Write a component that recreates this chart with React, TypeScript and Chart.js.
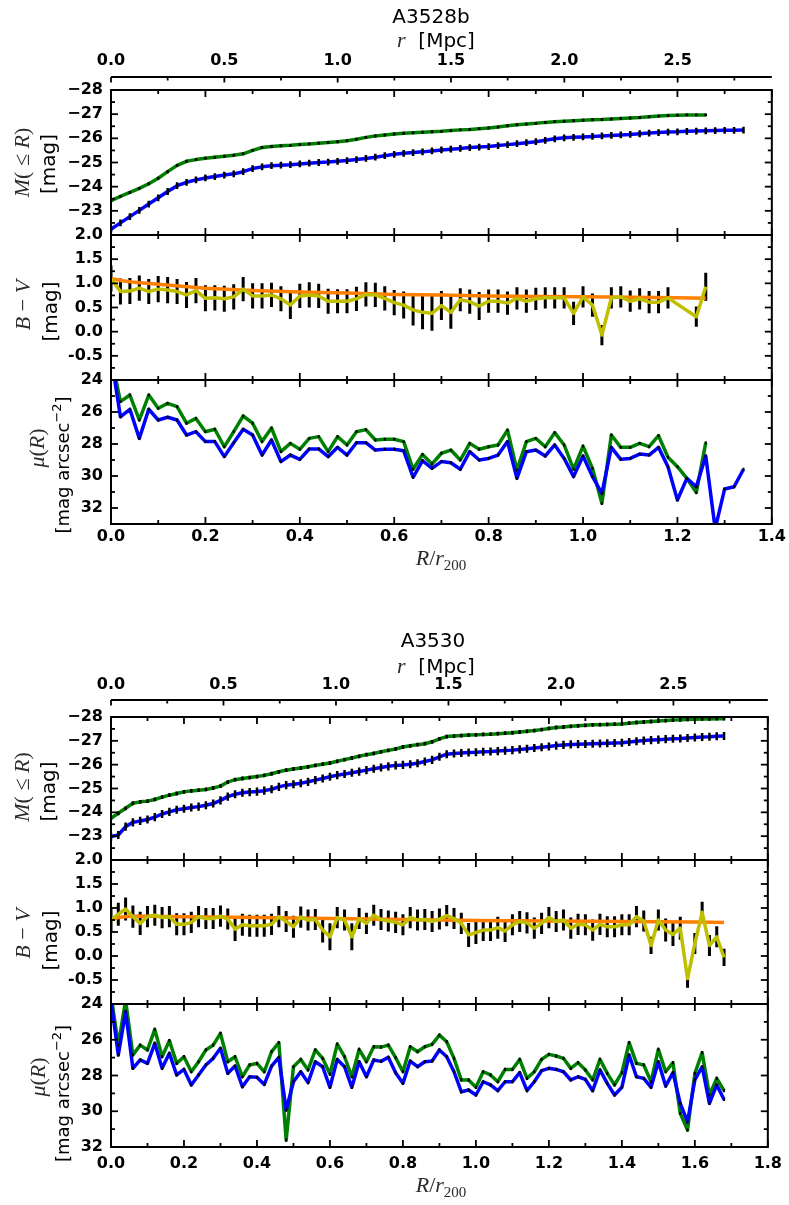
import React, { useEffect, useRef } from 'react';
import { Chart, registerables } from 'chart.js';

Chart.register(...registerables);

// ---------------- categories: R / r200 grid ----------------
const rTop = [0.00, 0.02, 0.04, 0.06, 0.08, 0.10, 0.12, 0.14, 0.16, 0.18, 0.20, 0.22, 0.24, 0.26, 0.28, 0.30, 0.32, 0.34, 0.36, 0.38, 0.40, 0.42, 0.44, 0.46, 0.48, 0.50, 0.52, 0.54, 0.56, 0.58, 0.60, 0.62, 0.64, 0.66, 0.68, 0.70, 0.72, 0.74, 0.76, 0.78, 0.80, 0.82, 0.84, 0.86, 0.88, 0.90, 0.92, 0.94, 0.96, 0.98, 1.00, 1.02, 1.04, 1.06, 1.08, 1.10, 1.12, 1.14, 1.16, 1.18, 1.20, 1.22, 1.24, 1.26, 1.28, 1.30, 1.32, 1.34];
const rBottom = [0.00, 0.02, 0.04, 0.06, 0.08, 0.10, 0.12, 0.14, 0.16, 0.18, 0.20, 0.22, 0.24, 0.26, 0.28, 0.30, 0.32, 0.34, 0.36, 0.38, 0.40, 0.42, 0.44, 0.46, 0.48, 0.50, 0.52, 0.54, 0.56, 0.58, 0.60, 0.62, 0.64, 0.66, 0.68, 0.70, 0.72, 0.74, 0.76, 0.78, 0.80, 0.82, 0.84, 0.86, 0.88, 0.90, 0.92, 0.94, 0.96, 0.98, 1.00, 1.02, 1.04, 1.06, 1.08, 1.10, 1.12, 1.14, 1.16, 1.18, 1.20, 1.22, 1.24, 1.26, 1.28, 1.30, 1.32, 1.34, 1.36, 1.38, 1.40, 1.42, 1.44, 1.46, 1.48, 1.50, 1.52, 1.54, 1.56, 1.58, 1.60, 1.62, 1.64, 1.66, 1.68];

// ---------------- A3528b ----------------
const a3528bMBlue = [
  -22.24, -22.50, -22.76, -23.02, -23.28, -23.54, -23.80, -24.04, -24.18, -24.28,
  -24.36, -24.42, -24.48, -24.53, -24.62, -24.75, -24.82, -24.87, -24.89, -24.91,
  -24.94, -24.97, -25.00, -25.02, -25.05, -25.08, -25.12, -25.17, -25.22, -25.28,
  -25.34, -25.38, -25.41, -25.44, -25.48, -25.52, -25.55, -25.58, -25.62, -25.64,
  -25.66, -25.70, -25.74, -25.78, -25.82, -25.86, -25.92, -25.98, -26.02, -26.04,
  -26.06, -26.08, -26.10, -26.12, -26.14, -26.16, -26.19, -26.22, -26.24, -26.26,
  -26.27, -26.29, -26.30, -26.31, -26.32, -26.33, -26.33, -26.34];
const a3528bMGreen = [
  -23.42, -23.60, -23.76, -23.93, -24.12, -24.35, -24.62, -24.88, -25.05, -25.12,
  -25.18, -25.22, -25.26, -25.30, -25.36, -25.50, -25.62, -25.66, -25.69, -25.71,
  -25.74, -25.77, -25.80, -25.83, -25.86, -25.90, -25.96, -26.04, -26.10, -26.14,
  -26.18, -26.21, -26.23, -26.25, -26.27, -26.29, -26.32, -26.35, -26.37, -26.40,
  -26.43, -26.47, -26.52, -26.56, -26.59, -26.62, -26.66, -26.69, -26.71, -26.73,
  -26.75, -26.77, -26.78, -26.80, -26.82, -26.84, -26.86, -26.89, -26.92, -26.94,
  -26.96, -26.97, -26.97, -26.97];
const a3528bBV = [
  1.10, 0.83, 0.84, 0.90, 0.83, 0.88, 0.86, 0.83, 0.76, 0.85,
  0.69, 0.70, 0.68, 0.72, 0.88, 0.74, 0.74, 0.76, 0.68, 0.55,
  0.74, 0.76, 0.74, 0.63, 0.63, 0.63, 0.68, 0.77, 0.76, 0.69,
  0.60, 0.55, 0.45, 0.40, 0.38, 0.54, 0.40, 0.66, 0.62, 0.53,
  0.63, 0.63, 0.59, 0.69, 0.63, 0.68, 0.70, 0.70, 0.70, 0.38,
  0.72, 0.55, -0.07, 0.70, 0.72, 0.63, 0.68, 0.61, 0.61, 0.70,
  null, null, 0.31, 0.93];
const a3528bBVErr = [
  0.27, 0.27, 0.27, 0.26, 0.26, 0.27, 0.27, 0.26, 0.27, 0.26,
  0.27, 0.26, 0.27, 0.26, 0.25, 0.26, 0.26, 0.25, 0.26, 0.29,
  0.25, 0.26, 0.25, 0.26, 0.25, 0.25, 0.25, 0.25, 0.25, 0.25,
  0.26, 0.28, 0.32, 0.35, 0.36, 0.30, 0.34, 0.24, 0.25, 0.29,
  0.24, 0.24, 0.24, 0.23, 0.24, 0.23, 0.22, 0.22, 0.22, 0.24,
  0.22, 0.24, 0.21, 0.22, 0.22, 0.22, 0.22, 0.23, 0.23, 0.22,
  null, null, 0.21, 0.29];
const a3528bFitR = [0.00, 0.02, 0.05, 0.10, 0.15, 0.20, 0.30, 0.40, 0.50, 0.60, 0.70, 0.80, 0.90, 1.00, 1.10, 1.20, 1.26];
const a3528bFitBV = [1.10, 1.06, 1.02, 0.98, 0.94, 0.90, 0.85, 0.82, 0.80, 0.77, 0.76, 0.74, 0.73, 0.72, 0.71, 0.70, 0.69];
const a3528bMuBlue = [
  22.5, 26.3, 25.83, 27.65, 25.83, 26.5, 26.33, 26.5, 27.44, 27.23,
  27.85, 27.85, 28.79, 27.92, 27.08, 27.44, 28.69, 27.75, 29.1, 28.69,
  28.96, 28.31, 28.31, 28.79, 28.21, 28.69, 27.92, 27.92, 28.38, 28.33,
  28.33, 28.42, 30.08, 29.04, 29.52, 29.1, 29.17, 29.58, 28.48, 29.0,
  28.9, 28.69, 27.85, 30.15, 28.48, 28.38, 28.75, 28.06, 28.9, 30.04,
  28.75, 30.04, 31.08, 28.21, 28.96, 28.9, 28.63, 28.69, 28.21, 29.42,
  31.5, 30.15, 30.67, 28.75, 33.3, 30.81, 30.67, 29.58];
const a3528bMuGreen = [
  22.5, 25.35, 24.94, 26.5, 24.94, 25.77, 25.46, 25.67, 26.7, 26.4,
  27.23, 27.08, 28.17, 27.23, 26.25, 26.7, 27.85, 27.0, 28.48, 27.96,
  28.33, 27.65, 27.54, 28.48, 27.54, 28.06, 27.23, 27.1, 27.75, 27.7,
  27.7, 27.85, 29.58, 28.65, 29.25, 28.58, 28.38, 29.0, 27.96, 28.33,
  28.17, 28.06, 27.13, 29.63, 27.85, 27.65, 28.17, 27.29, 28.06, 29.58,
  28.13, 29.52, 31.71, 27.44, 28.21, 28.21, 27.96, 28.17, 27.48, 28.83,
  29.42, 30.15, 31.04, 27.92];

// ---------------- A3530 ----------------
const a3530MBlue = [
  -22.98, -23.05, -23.40, -23.58, -23.64, -23.70, -23.80, -23.93, -24.02, -24.11,
  -24.15, -24.20, -24.24, -24.30, -24.37, -24.50, -24.66, -24.76, -24.82, -24.85,
  -24.87, -24.91, -24.97, -25.07, -25.14, -25.18, -25.22, -25.28, -25.35, -25.42,
  -25.49, -25.56, -25.61, -25.66, -25.71, -25.77, -25.83, -25.88, -25.93, -25.97,
  -25.99, -26.02, -26.06, -26.13, -26.20, -26.33, -26.44, -26.47, -26.49, -26.51,
  -26.52, -26.54, -26.55, -26.57, -26.59, -26.61, -26.64, -26.67, -26.70, -26.73,
  -26.76, -26.80, -26.83, -26.85, -26.86, -26.87, -26.88, -26.89, -26.90, -26.91,
  -26.92, -26.95, -26.98, -27.01, -27.03, -27.05, -27.07, -27.09, -27.10, -27.12,
  -27.14, -27.16, -27.17, -27.19, -27.20];
const a3530MGreen = [
  -23.75, -23.96, -24.17, -24.38, -24.44, -24.47, -24.54, -24.64, -24.72, -24.79,
  -24.86, -24.90, -24.93, -24.96, -25.02, -25.10, -25.27, -25.37, -25.42, -25.46,
  -25.50, -25.55, -25.62, -25.70, -25.77, -25.82, -25.86, -25.91, -25.97, -26.02,
  -26.07, -26.14, -26.21, -26.28, -26.35, -26.42, -26.47, -26.54, -26.60, -26.66,
  -26.74, -26.79, -26.84, -26.88, -26.96, -27.08, -27.18, -27.20, -27.22, -27.24,
  -27.25, -27.27, -27.28, -27.30, -27.32, -27.34, -27.37, -27.40, -27.43, -27.47,
  -27.52, -27.56, -27.58, -27.61, -27.63, -27.65, -27.67, -27.68, -27.69, -27.70,
  -27.71, -27.74, -27.77, -27.79, -27.81, -27.83, -27.85, -27.87, -27.88, -27.90,
  -27.91, -27.92, -27.92, -27.93, -27.93];
const a3530BV = [
  0.75, 0.87, 0.98, 0.82, 0.68, 0.82, 0.85, 0.80, 0.82, 0.66,
  0.66, 0.70, 0.82, 0.78, 0.78, 0.83, 0.77, 0.56, 0.65, 0.63,
  0.63, 0.63, 0.66, 0.82, 0.72, 0.61, 0.81, 0.75, 0.76, 0.54,
  0.40, 0.80, 0.75, 0.40, 0.78, 0.68, 0.85, 0.76, 0.73, 0.70,
  0.65, 0.80, 0.75, 0.76, 0.72, 0.77, 0.84, 0.78, 0.68, 0.44,
  0.49, 0.54, 0.54, 0.59, 0.52, 0.65, 0.72, 0.69, 0.58, 0.68,
  0.80, 0.72, 0.75, 0.58, 0.66, 0.65, 0.54, 0.66, 0.61, 0.61,
  0.65, 0.65, 0.82, 0.73, 0.22, 0.75, 0.54, 0.45, 0.58, -0.47,
  0.26, 0.91, 0.22, 0.40, -0.03];
const a3530BVErr = [
  0.24, 0.24, 0.24, 0.23, 0.24, 0.22, 0.22, 0.22, 0.22, 0.23,
  0.23, 0.22, 0.22, 0.22, 0.22, 0.22, 0.22, 0.25, 0.23, 0.23,
  0.23, 0.23, 0.22, 0.22, 0.22, 0.23, 0.22, 0.22, 0.22, 0.26,
  0.28, 0.22, 0.22, 0.28, 0.22, 0.22, 0.22, 0.22, 0.22, 0.22,
  0.22, 0.22, 0.22, 0.22, 0.22, 0.22, 0.22, 0.22, 0.22, 0.25,
  0.24, 0.23, 0.23, 0.23, 0.23, 0.22, 0.22, 0.22, 0.22, 0.22,
  0.22, 0.22, 0.22, 0.22, 0.22, 0.22, 0.22, 0.22, 0.22, 0.22,
  0.22, 0.22, 0.22, 0.22, 0.18, 0.22, 0.24, 0.24, 0.24, 0.19,
  0.22, 0.22, 0.22, 0.22, 0.18];
const a3530FitR = [0.00, 0.02, 0.05, 0.10, 0.20, 0.40, 0.60, 0.80, 1.00, 1.20, 1.40, 1.60, 1.68];
const a3530FitBV = [0.75, 0.80, 0.83, 0.83, 0.82, 0.80, 0.78, 0.76, 0.74, 0.73, 0.72, 0.71, 0.70];
const a3530MuBlue = [
  23.8, 26.85, 24.43, 27.6, 27.13, 27.32, 26.2, 27.6, 26.76, 27.97,
  27.66, 28.53, 27.97, 27.41, 27.04, 26.48, 27.88, 27.47, 28.63, 28.07,
  28.1, 28.5, 27.47, 26.99, 29.93, 28.35, 27.79, 28.4, 27.23, 27.51,
  28.66, 27.1, 27.51, 28.66, 27.23, 28.07, 27.13, 27.21, 26.98, 27.85,
  28.44, 27.19, 27.51, 27.23, 27.19, 26.57, 26.95, 27.79, 28.91, 28.81,
  29.09, 28.35, 28.53, 28.85, 28.35, 28.35, 27.84, 28.85, 28.35, 27.73,
  27.6, 27.66, 27.79, 28.25, 28.07, 28.22, 28.85, 27.69, 28.44, 29.09,
  28.66, 26.85, 28.07, 28.16, 28.66, 27.23, 28.59, 27.84, 29.56, 30.59,
  28.25, 27.51, 29.56, 28.53, 29.34];
const a3530MuGreen = [
  23.5, 26.3, 23.8, 26.85, 26.3, 26.57, 25.42, 26.95, 26.05, 27.32,
  26.95, 27.79, 27.23, 26.57, 26.3, 25.64, 27.23, 26.95, 28.07, 27.41,
  27.32, 27.79, 26.67, 26.16, 31.61, 27.51, 27.1, 27.69, 26.57, 27.04,
  27.92, 26.24, 26.95, 28.07, 26.54, 27.23, 26.39, 26.41, 26.3, 27.0,
  27.79, 26.39, 26.67, 26.39, 26.26, 25.74, 26.11, 27.04, 28.25, 28.25,
  28.66, 27.79, 27.97, 28.35, 27.66, 27.66, 27.1, 28.16, 27.79, 27.1,
  26.82, 26.91, 27.04, 27.6, 27.28, 27.69, 28.25, 27.1, 27.88, 28.53,
  27.84, 26.16, 27.32, 27.41, 28.35, 26.54, 27.79, 27.28, 30.12, 31.05,
  27.88, 26.72, 29.09, 28.16, 28.85];

// ---------------- styles ----------------
const BLUE = '#0000ff';
const GREEN = '#008000';
const YELLOW = '#bfbf00';
const ORANGE = '#ff7f00';
const SANS = '"DejaVu Sans", sans-serif';
const SERIF = '"Liberation Serif", "DejaVu Serif", serif';
const TICK_FONT = { family: SANS, size: 16, weight: 'bold' as const };
const MI = `italic 22px ${SERIF}`;
const MR = `22px ${SERIF}`;
const S20 = `20px ${SANS}`;
const MATH_COLOR = '#2b2b2b';

type Part = [string, string, number?, string?];

type Group = {
  title: string; top: number; height: number;
  areaTop: number; areaBottom: number; weights: number[];
  xMax: number; r200: number; muMax: number;
  mpcY: number; titleX: number; titleBase: number; mpcLabelX: number; mpcLabelBase: number;
  xLabelX: number; xLabelBase: number; xPad: number; rPad: number;
  yLab: { x1: number; x2: number; dy1: number; dy2: number }[];
  r: number[]; mBlue: number[]; mGreen: number[]; bv: (number | null)[]; bvErr: (number | null)[];
  fitR: number[]; fitBV: number[]; muBlue: number[]; muGreen: number[];
  mBlueErr: number; mGreenErr: number; muErr: number;
};

const groups: Group[] = [
  {
    title: 'A3528b', top: 0, height: 600, areaTop: 90, areaBottom: 524, weights: [145, 145, 144],
    xMax: 1.4, r200: 2.0825, muMax: 33,
    mpcY: 77, titleX: 431, titleBase: 22.5, mpcLabelX: 436, mpcLabelBase: 46.5,
    xLabelX: 441, xLabelBase: 565, xPad: 3, rPad: 19.4,
    yLab: [{ x1: 23, x2: 49, dy1: 0, dy2: 1.5 }, { x1: 23, x2: 51, dy1: -2.5, dy2: 4 }, { x1: 38, x2: 63, dy1: -4, dy2: 13 }],
    r: rTop, mBlue: a3528bMBlue, mGreen: a3528bMGreen, bv: a3528bBV, bvErr: a3528bBVErr,
    fitR: a3528bFitR, fitBV: a3528bFitBV, muBlue: a3528bMuBlue, muGreen: a3528bMuGreen,
    mBlueErr: 0.14, mGreenErr: 0.06, muErr: 0.09,
  },
  {
    title: 'A3530', top: 600, height: 605, areaTop: 117, areaBottom: 547, weights: [143, 144, 143],
    xMax: 1.8, r200: 1.622, muMax: 32,
    mpcY: 100, titleX: 433, titleBase: 46.7, mpcLabelX: 436, mpcLabelBase: 73,
    xLabelX: 441, xLabelBase: 592, xPad: 7, rPad: 22.4,
    yLab: [{ x1: 23, x2: 49, dy1: -1.5, dy2: 3 }, { x1: 23, x2: 51, dy1: 1.5, dy2: 8.5 }, { x1: 39, x2: 63, dy1: 1.5, dy2: 18 }],
    r: rBottom, mBlue: a3530MBlue, mGreen: a3530MGreen, bv: a3530BV, bvErr: a3530BVErr,
    fitR: a3530FitR, fitBV: a3530FitBV, muBlue: a3530MuBlue, muGreen: a3530MuGreen,
    mBlueErr: 0.17, mGreenErr: 0.08, muErr: 0.09,
  },
];

const pts = (r: number[], v: (number | null)[]) => v.map((y, i) => ({ x: r[i], y }));

function partsWidth(ctx: CanvasRenderingContext2D, parts: Part[]) {
  let w = 0;
  for (const p of parts) { ctx.font = p[1]; w += ctx.measureText(p[0]).width; }
  return w;
}
function drawParts(ctx: CanvasRenderingContext2D, parts: Part[], cx: number, base: number, color: string) {
  const w = partsWidth(ctx, parts);
  let x = cx - w / 2;
  ctx.textAlign = 'left';
  ctx.textBaseline = 'alphabetic';
  for (const p of parts) {
    ctx.font = p[1];
    ctx.fillStyle = p[3] || color;
    ctx.fillText(p[0], x, base + (p[2] || 0));
    x += ctx.measureText(p[0]).width;
  }
}
function drawRot(ctx: CanvasRenderingContext2D, parts: Part[], cx: number, cy: number, baseOff: number, color: string) {
  ctx.save();
  ctx.translate(cx, cy);
  ctx.rotate(-Math.PI / 2);
  drawParts(ctx, parts, 0, baseOff, color);
  ctx.restore();
}

function forTicks(min: number, max: number, minor: number, major: number, cb: (v: number, isMajor: boolean) => void) {
  const n = Math.floor((max - min) / minor + 1e-6);
  const start = Math.ceil(min / minor - 1e-6) * minor;
  for (let i = 0; i <= n; i++) {
    const v = start + i * minor;
    if (v > max + 1e-6) break;
    const q = v / major;
    cb(v, Math.abs(q - Math.round(q)) < 1e-6);
  }
}

function makePlugin(g: Group) {
  const drawErr = (chart: any, onTop: boolean) => {
    const ctx: CanvasRenderingContext2D = chart.ctx;
    chart.data.datasets.forEach((ds: any) => {
      if (ds.err == null || !!ds.errTop !== onTop) return;
      const xs = chart.scales.x;
      const ys = chart.scales[ds.yAxisID];
      ctx.save();
      ctx.beginPath();
      ctx.rect(xs.left, ys.top, xs.right - xs.left, ys.bottom - ys.top);
      ctx.clip();
      ctx.strokeStyle = '#000';
      ctx.lineWidth = ds.errW;
      ctx.lineCap = 'butt';
      ds.data.forEach((p: any, j: number) => {
        if (p.y == null) return;
        const e = Array.isArray(ds.err) ? ds.err[j] : ds.err;
        if (e == null) return;
        const px = xs.getPixelForValue(p.x);
        ctx.beginPath();
        ctx.moveTo(px, ys.getPixelForValue(p.y - e));
        ctx.lineTo(px, ys.getPixelForValue(p.y + e));
        ctx.stroke();
      });
      ctx.restore();
    });
  };

  const yTickSteps: Record<string, [number, number]> = { yM: [0.5, 1], yBV: [0.25, 0.5], yMu: [1, 2] };

  return {
    id: 'mplFrame',
    beforeDatasetsDraw(chart: any) { drawErr(chart, false); },
    afterDatasetsDraw(chart: any) { drawErr(chart, true); },
    afterDraw(chart: any) {
      const ctx: CanvasRenderingContext2D = chart.ctx;
      const xs = chart.scales.x;
      const xr = chart.scales.xr;
      const L = xs.left, R = xs.right;
      ctx.save();
      ctx.strokeStyle = '#000';
      ctx.lineCap = 'butt';
      const seg = (x1: number, y1: number, x2: number, y2: number) => {
        ctx.beginPath(); ctx.moveTo(x1, y1); ctx.lineTo(x2, y2); ctx.stroke();
      };
      // panels
      ['yM', 'yBV', 'yMu'].forEach((id) => {
        const ys = chart.scales[id];
        const T = ys.top, B = ys.bottom;
        ctx.lineWidth = 1.8;
        forTicks(xs.min, xs.max, 0.1, 0.2, (v, maj) => {
          const px = xs.getPixelForValue(v);
          const len = maj ? 7 : 4;
          seg(px, T, px, T + len);
          seg(px, B, px, B - len);
        });
        const [mn, mj] = yTickSteps[id];
        forTicks(ys.min, ys.max, mn, mj, (v, maj) => {
          const py = ys.getPixelForValue(v);
          const len = maj ? 7 : 4;
          seg(L, py, L + len, py);
          seg(R, py, R - len, py);
        });
        ctx.lineWidth = 2;
        ctx.strokeRect(L, T, R - L, B - T);
      });
      // Mpc axis
      ctx.lineWidth = 2;
      seg(L, g.mpcY, R, g.mpcY);
      ctx.lineWidth = 1.8;
      forTicks(xr.min, xr.max, 0.25, 0.5, (v, maj) => {
        const px = xr.getPixelForValue(v);
        seg(px, g.mpcY, px, g.mpcY + (maj ? 5.5 : 3.5));
      });
      // texts
      drawParts(ctx, [[g.title, S20]], g.titleX, g.titleBase, '#000');
      drawParts(ctx, [['r', MI, 0, MATH_COLOR], ['  [Mpc]', S20]], g.mpcLabelX, g.mpcLabelBase, '#000');
      drawParts(ctx, [['R', MI, 0, MATH_COLOR], ['/', MR, 0, MATH_COLOR], ['r', MI, 0, MATH_COLOR], ['200', `15px ${SERIF}`, 5, MATH_COLOR]], g.xLabelX, g.xLabelBase, '#000');
      const ids = ['yM', 'yBV', 'yMu'];
      const line1: Part[][] = [
        [['M', MI], ['(', MR], [' \u2264 ', MR], ['R', MI], [')', MR]],
        [['B', MI], [' \u2212 ', MR], ['V', MI]],
        [['\u03bc', MI], ['(', MR], ['R', MI], [')', MR]],
      ];
      const line2: Part[][] = [
        [['[mag]', S20]],
        [['[mag]', S20]],
        [['[mag arcsec', `18px ${SANS}`], ['\u22122', `13px ${SANS}`, -8], [']', `18px ${SANS}`]],
      ];
      ids.forEach((id, k) => {
        const ys = chart.scales[id];
        const c = (ys.top + ys.bottom) / 2;
        const lab = g.yLab[k];
        drawRot(ctx, line1[k], lab.x1, c + lab.dy1, k === 1 ? 7.3 : 5.6, MATH_COLOR);
        drawRot(ctx, line2[k], lab.x2, c + lab.dy2, k === 2 ? 5.7 : 6.3, '#000');
      });
      ctx.restore();
    },
  };
}

function buildConfig(g: Group) {
  const noGrid = { display: false, drawTicks: false };
  const noBorder = { display: false };
  const yBase = (weight: number, stackWeight: number) => ({
    type: 'linear', position: 'left', stack: 'panels', stackWeight, weight,
    grid: noGrid, border: noBorder,
    afterFit: (s: any) => { s.width = 111; },
  });
  const line = (color: string, width: number) => ({
    borderColor: color, backgroundColor: color, borderWidth: width, pointRadius: 0, pointHoverRadius: 0,
    fill: false, tension: 0, clip: 0, borderJoinStyle: 'round', borderCapStyle: 'butt', xAxisID: 'x',
  });
  return {
    type: 'line',
    data: {
      datasets: [
        { ...line(BLUE, 3.5), label: 'mu blue', yAxisID: 'yMu', data: pts(g.r, g.muBlue), err: g.muErr, errW: 2, errTop: true },
        { ...line(GREEN, 3.5), label: 'mu green', yAxisID: 'yMu', data: pts(g.r, g.muGreen), err: g.muErr, errW: 2, errTop: true },
        { ...line(YELLOW, 3.5), label: 'B-V', yAxisID: 'yBV', data: pts(g.r, g.bv), spanGaps: true, err: g.bvErr, errW: 3, errTop: false },
        { ...line(ORANGE, 3.5), label: 'B-V profile', yAxisID: 'yBV', data: pts(g.fitR, g.fitBV) },
        { ...line(BLUE, 3.5), label: 'M blue', yAxisID: 'yM', data: pts(g.r, g.mBlue), err: g.mBlueErr, errW: 2.5, errTop: true },
        { ...line(GREEN, 3.5), label: 'M green', yAxisID: 'yM', data: pts(g.r, g.mGreen), err: g.mGreenErr, errW: 2.5, errTop: true },
      ],
    },
    options: {
      animation: false,
      responsive: false,
      maintainAspectRatio: false,
      devicePixelRatio: 1,
      events: [],
      layout: { padding: { left: 0, right: 16, top: 0, bottom: 0 }, autoPadding: false },
      plugins: { legend: { display: false }, tooltip: { enabled: false }, title: { display: false } },
      scales: {
        x: {
          type: 'linear', position: 'bottom', min: 0, max: g.xMax,
          grid: noGrid, border: noBorder,
          ticks: { stepSize: 0.2, autoSkip: false, maxRotation: 0, minRotation: 0, padding: g.xPad, font: TICK_FONT, color: '#000',
            callback: (v: any) => Number(v).toFixed(1) },
          afterFit: (s: any) => { s.height = g.height - g.areaBottom; },
        },
        xr: {
          type: 'linear', position: 'top', min: 0, max: g.xMax * g.r200,
          grid: noGrid, border: noBorder,
          ticks: { stepSize: 0.5, includeBounds: false, autoSkip: false, maxRotation: 0, minRotation: 0, padding: g.rPad, font: TICK_FONT, color: '#000',
            callback: (v: any) => Number(v).toFixed(1) },
          afterFit: (s: any) => { s.height = g.areaTop; },
        },
        yM: {
          ...yBase(3, g.weights[0]), min: -28, max: -22, reverse: true,
          ticks: { stepSize: 1, autoSkip: false, padding: 8, font: TICK_FONT, color: '#000',
            callback: (v: any) => (v > -22.5 ? '' : '\u2212' + Math.abs(Math.round(v))) },
        },
        yBV: {
          ...yBase(2, g.weights[1]), min: -1, max: 2,
          ticks: { stepSize: 0.5, autoSkip: false, padding: 8, font: TICK_FONT, color: '#000',
            callback: (v: any) => (v < -0.75 ? '' : Number(v).toFixed(1)) },
        },
        yMu: {
          ...yBase(1, g.weights[2]), min: 24, max: g.muMax, reverse: true,
          ticks: { stepSize: 2, includeBounds: false, autoSkip: false, padding: 8, font: TICK_FONT, color: '#000',
            callback: (v: any) => String(Math.round(v)) },
        },
      },
    },
    plugins: [makePlugin(g)],
  };
}

function GroupChart({ g }: { g: Group }) {
  const ref = useRef<HTMLCanvasElement | null>(null);
  useEffect(() => {
    const canvas = ref.current;
    if (!canvas) return;
    const chart = new Chart(canvas, buildConfig(g) as any);
    return () => chart.destroy();
  }, [g]);
  return (
    <canvas
      ref={ref}
      width={789}
      height={g.height}
      style={{ position: 'absolute', left: 0, top: g.top, width: 789, height: g.height }}
    />
  );
}

export default function App() {
  return (
    <div style={{ position: 'absolute', left: 0, top: 0, width: 789, height: 1205, background: '#fff', overflow: 'hidden' }}>
      {groups.map((g) => (
        <GroupChart key={g.title} g={g} />
      ))}
    </div>
  );
}
